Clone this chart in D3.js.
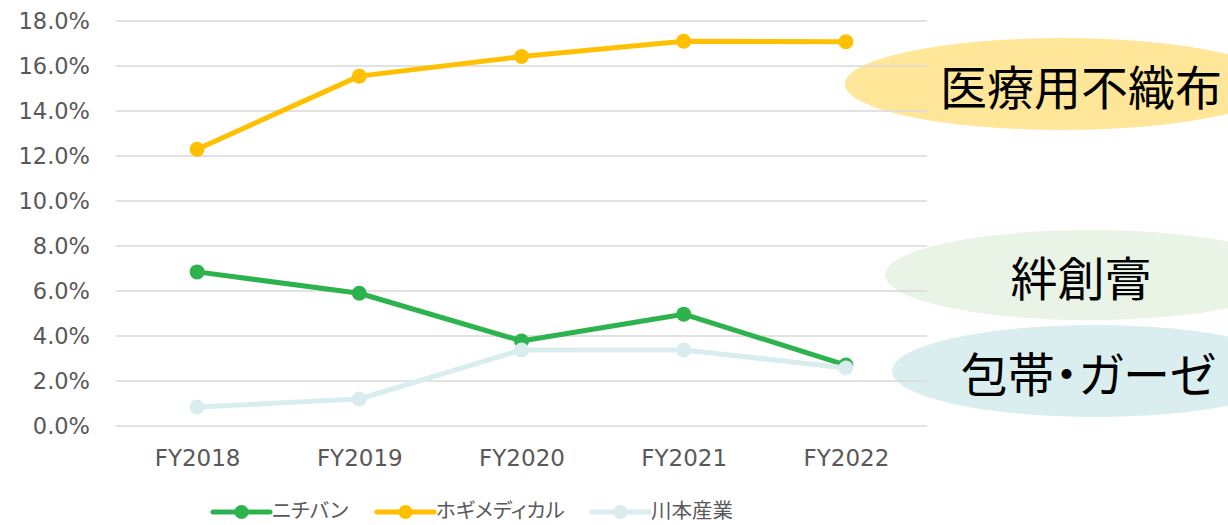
<!DOCTYPE html>
<html>
<head>
<meta charset="utf-8">
<script src="https://cdn.jsdelivr.net/npm/d3@7"></script>
<style>
  html, body { margin: 0; padding: 0; background: #fff; }
  svg { display: block; }
</style>
</head>
<body>
<div id="chart"></div>
<script>
// ---------------- DATA ----------------
const years = ["FY2018", "FY2019", "FY2020", "FY2021", "FY2022"];
const seriesNames = ["ニチバン", "ホギメディカル", "川本産業"];
const nichiban = [6.85, 5.9, 3.78, 4.97, 2.71];
const hogi = [12.3, 15.55, 16.42, 17.1, 17.08];
const kawamoto = [0.84, 1.2, 3.38, 3.38, 2.58];
const yTicks = [0, 2, 4, 6, 8, 10, 12, 14, 16, 18];
const bubbleLabels = ["医療用不織布", "絆創膏", "包帯・ガーゼ"];

const width = 1228;
const height = 525;
const margin = {top: 21, right: 301, bottom: 99, left: 116};

const colors = ["#2DB34E", "#FFC000", "#D9EDEF"];
const series = [nichiban, hogi, kawamoto];

const svg = d3.select("#chart")
  .append("svg")
  .attr("width", width)
  .attr("height", height);

// Scales
const xScale = d3.scalePoint()
  .domain(years)
  .range([margin.left, width - margin.right])
  .padding(0.5);

const yScale = d3.scaleLinear()
  .domain([0, 18])
  .range([height - margin.bottom, margin.top]);

// Category bubbles (drawn under the chart)
const bubbles = [
  {label: bubbleLabels[0], cx: 1062, cy: 84, rx: 217, ry: 46, fill: "#FFE699"},
  {label: bubbleLabels[1], cx: 1090, cy: 275, rx: 205, ry: 45, fill: "#E9F3E6"},
  {label: bubbleLabels[2], cx: 1095, cy: 371, rx: 203, ry: 46, fill: "#DAEDEF"}
];

const bubbleG = svg.append("g");
bubbleG.selectAll("ellipse")
  .data(bubbles)
  .join("ellipse")
  .attr("cx", d => d.cx)
  .attr("cy", d => d.cy)
  .attr("rx", d => d.rx)
  .attr("ry", d => d.ry)
  .attr("fill", d => d.fill);

// Grid lines
svg.append("g")
  .selectAll("line")
  .data(yTicks)
  .join("line")
  .attr("x1", margin.left)
  .attr("x2", width - margin.right)
  .attr("y1", d => yScale(d))
  .attr("y2", d => yScale(d))
  .attr("stroke", "#D9D9D9")
  .attr("stroke-width", 1.5);

// Y axis
const yAxis = svg.append("g")
  .attr("transform", `translate(${margin.left - 26},0)`)
  .call(d3.axisLeft(yScale).tickValues(yTicks).tickFormat(d => d.toFixed(1) + "%").tickSize(0).tickPadding(0));
yAxis.select(".domain").remove();
yAxis.selectAll("text")
  .attr("fill", "#595959")
  .style("font-family", "'DejaVu Sans', sans-serif")
  .style("font-size", "22.5px");

// X axis
const xAxis = svg.append("g")
  .attr("transform", `translate(0,${height - margin.bottom})`)
  .call(d3.axisBottom(xScale).tickSize(0).tickPadding(24));
xAxis.select(".domain").remove();
xAxis.selectAll("text")
  .attr("fill", "#595959")
  .style("font-family", "'DejaVu Sans', sans-serif")
  .style("font-size", "23px");

// Lines and markers
const line = d3.line()
  .x((d, i) => xScale(years[i]))
  .y(d => yScale(d));

series.forEach((vals, s) => {
  const g = svg.append("g");
  g.append("path")
    .datum(vals)
    .attr("fill", "none")
    .attr("stroke", colors[s])
    .attr("stroke-width", 5)
    .attr("stroke-linejoin", "round")
    .attr("d", line);
  g.selectAll("circle")
    .data(vals)
    .join("circle")
    .attr("cx", (d, i) => xScale(years[i]))
    .attr("cy", d => yScale(d))
    .attr("r", 7.5)
    .attr("fill", colors[s]);
});

// Bubble labels
svg.append("g")
  .selectAll("text")
  .data(bubbles)
  .join("text")
  .attr("x", (d, i) => [1081, 1081, 1088][i])
  .attr("y", d => d.cy)
  .attr("text-anchor", "middle")
  .attr("dominant-baseline", "central")
  .style("font-family", "'Noto Sans CJK JP', sans-serif")
  .style("font-size", "47px")
  .style("font-feature-settings", "'palt'")
  .attr("fill", "#000")
  .text(d => d.label);

// Legend
const legendX = [213, 377, 592];
const legend = svg.append("g")
  .selectAll("g")
  .data(seriesNames)
  .join("g")
  .attr("transform", (d, i) => `translate(${legendX[i]},512)`);
legend.append("line")
  .attr("x1", 0).attr("x2", 57)
  .attr("y1", 0).attr("y2", 0)
  .attr("stroke", (d, i) => colors[i])
  .attr("stroke-width", 5)
  .attr("stroke-linecap", "round");
legend.append("circle")
  .attr("cx", 28.5).attr("cy", 0).attr("r", 7)
  .attr("fill", (d, i) => colors[i]);
legend.append("text")
  .attr("x", 59)
  .attr("y", -3)
  .attr("dominant-baseline", "central")
  .attr("fill", "#595959")
  .style("font-family", "'Noto Sans CJK JP', sans-serif")
  .style("font-size", "20.5px")
  .style("font-feature-settings", "'palt'")
  .text(d => d);
</script>
</body>
</html>
